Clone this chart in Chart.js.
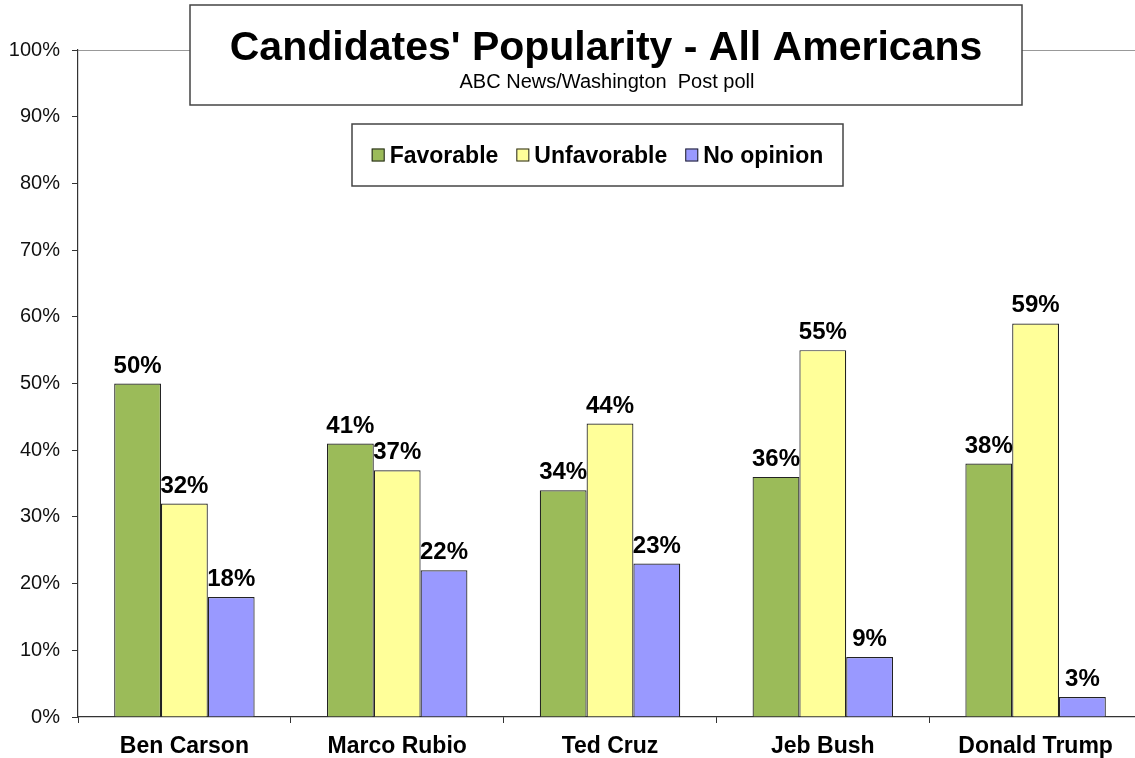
<!DOCTYPE html>
<html>
<head>
<meta charset="utf-8">
<script src="https://cdn.jsdelivr.net/npm/chart.js@4/dist/chart.umd.min.js"></script>
<style>
    html, body { margin: 0; padding: 0; overflow: hidden; background: #fff; }
    canvas { display: block; }
</style>
</head>
<body>
<canvas id="popularity-chart" width="1142" height="758"></canvas>
<script>
const candidates = ['Ben Carson', 'Marco Rubio', 'Ted Cruz', 'Jeb Bush', 'Donald Trump'];
const favorable = [50, 41, 34, 36, 38];
const unfavorable = [32, 37, 44, 55, 59];
const noOpinion = [18, 22, 23, 9, 3];
const titleText = 'Candidates\' Popularity - All Americans';
const subtitleText = 'ABC News/Washington  Post poll';

const FONT = '"Liberation Sans", Arial, sans-serif';

// value labels above each bar
const barLabels = {
    id: 'barLabels',
    afterDatasetsDraw: function(chart) {
        'use strict';
        const ctx = chart.ctx;
        ctx.save();
        ctx.font = 'bold 24px ' + FONT;
        ctx.fillStyle = '#000';
        ctx.textAlign = 'center';
        ctx.textBaseline = 'alphabetic';
        chart.data.datasets.forEach(function(ds, i) {
            chart.getDatasetMeta(i).data.forEach(function(bar, j) {
                ctx.fillText(ds.data[j] + '%', bar.x, bar.y - 11);
            });
        });
        ctx.restore();
    }
};

// boxed title and legend, drawn over the plot like the excel original
const boxes = {
    id: 'boxes',
    afterDraw: function(chart) {
        'use strict';
        const ctx = chart.ctx;
        ctx.save();
        ctx.lineWidth = 1.5;
        ctx.strokeStyle = '#444';
        ctx.fillStyle = '#fff';
        ctx.fillRect(190, 5, 832, 100);
        ctx.strokeRect(190, 5, 832, 100);

        ctx.fillStyle = '#000';
        ctx.textAlign = 'center';
        ctx.font = 'bold 41px ' + FONT;
        ctx.fillText(titleText, 606, 60);
        ctx.font = '20px ' + FONT;
        ctx.fillText(subtitleText, 607, 88);

        ctx.fillStyle = '#fff';
        ctx.fillRect(352, 124, 491, 62);
        ctx.strokeRect(352, 124, 491, 62);

        ctx.font = 'bold 23px ' + FONT;
        ctx.textAlign = 'left';
        const sw = 13, gap = 5, spacing = 18;
        const items = chart.data.datasets;
        let total = 0;
        items.forEach(function(ds, i) {
            total += sw + gap + ctx.measureText(ds.label).width;
            if (i < items.length - 1) total += spacing;
        });
        let x = 352 + (491 - total) / 2;
        const cy = 155;
        items.forEach(function(ds) {
            ctx.fillStyle = ds.backgroundColor;
            ctx.fillRect(x, cy - sw / 2, sw, sw);
            ctx.lineWidth = 1;
            ctx.strokeStyle = '#222';
            ctx.strokeRect(x + 0.5, cy - sw / 2 + 0.5, sw - 1, sw - 1);
            x += sw + gap;
            ctx.fillStyle = '#000';
            ctx.fillText(ds.label, x, cy + 8);
            x += ctx.measureText(ds.label).width + spacing;
        });
        ctx.restore();
    }
};

const ctx = document.querySelector('#popularity-chart').getContext('2d');
new Chart(ctx, {
    type: 'bar',
    data: {
        labels: candidates,
        datasets: [
            {label: 'Favorable', data: favorable, backgroundColor: '#9BBB59'},
            {label: 'Unfavorable', data: unfavorable, backgroundColor: '#FFFF99'},
            {label: 'No opinion', data: noOpinion, backgroundColor: '#9999FF'},
        ].map(function(d) {
            d.borderColor = '#222';
            d.borderWidth = 1.2;
            d.categoryPercentage = 0.66;
            d.barPercentage = 1.0;
            return d;
        }),
    },
    options: {
        animation: false,
        responsive: false,
        layout: {padding: {top: 50, left: 0, right: 0, bottom: 0}},
        scales: {
            x: {
                afterFit: function(scale) { scale.height = 41; },
                grid: {
                    offset: true,
                    drawOnChartArea: false,
                    tickLength: 6,
                    tickColor: '#333',
                },
                border: {color: '#333', width: 1.2},
                ticks: {
                    color: '#000',
                    padding: 10,
                    font: {family: FONT, size: 23, weight: 'bold'},
                },
            },
            y: {
                min: 0,
                max: 100,
                afterFit: function(scale) { scale.width = 78; },
                grid: {
                    color: function(c) {
                        return c.tick && c.tick.value === 100 ? '#999' : 'rgba(0,0,0,0)';
                    },
                    tickLength: 6,
                    tickColor: '#333',
                },
                border: {color: '#333', width: 1.2},
                ticks: {
                    stepSize: 10,
                    color: '#111',
                    padding: 12,
                    font: {family: FONT, size: 20},
                    callback: function(v) { return v + '%'; },
                },
            },
        },
        plugins: {
            legend: {display: false},
            title: {display: false},
            tooltip: {enabled: false},
        },
    },
    plugins: [barLabels, boxes],
});
</script>
</body>
</html>
